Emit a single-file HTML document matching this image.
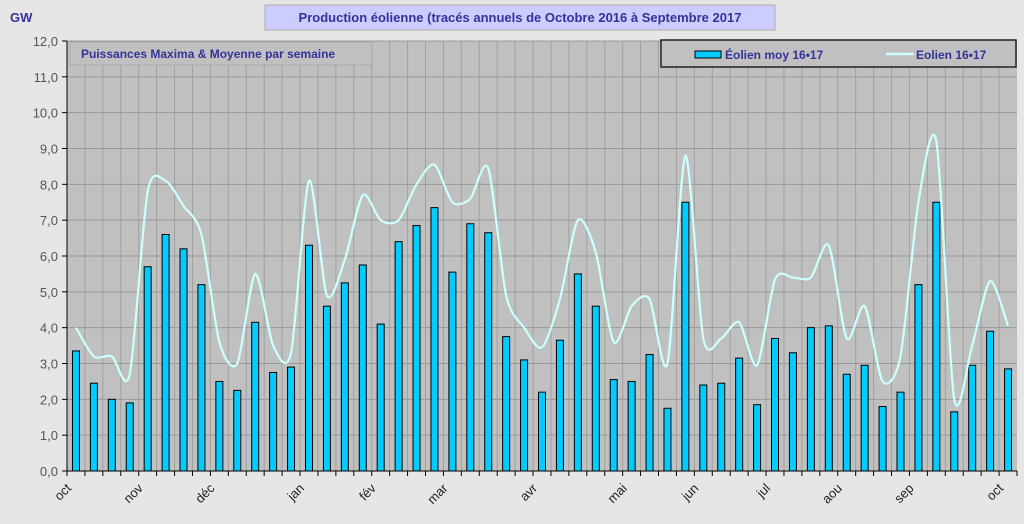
<!DOCTYPE html>
<html><head><meta charset="utf-8"><style>
body{margin:0;background:#e6e6e6;width:1024px;height:519px;overflow:hidden;font-family:"Liberation Sans",sans-serif}
</style></head><body>
<svg id="s" width="1024" height="519" xmlns="http://www.w3.org/2000/svg" font-family="Liberation Sans, sans-serif"></svg>
<script>
const s=document.getElementById('s');
const X0=67,X1=1017,Y0=471,Y1=41,N=53,cw=(X1-X0)/N,u=(Y0-Y1)/12;
let h='';
h+=`<rect x="265" y="5" width="510" height="25" fill="#ccccff" stroke="#aaa"/>`;
h+=`<text x="520" y="22" text-anchor="middle" font-size="13" font-weight="bold" fill="#333399">Production éolienne (tracés annuels de Octobre 2016 à Septembre 2017</text>`;
h+=`<text x="10" y="22" font-size="13" font-weight="bold" fill="#333399">GW</text>`;
h+=`<rect x="${X0}" y="${Y1}" width="${X1-X0}" height="${Y0-Y1}" fill="#c0c0c0"/>`;
for(let i=1;i<N;i++){let x=X0+i*cw;h+=`<line x1="${x}" y1="${Y1}" x2="${x}" y2="${Y0}" stroke="#a0a0a0"/>`;}
for(let k=0;k<=12;k++){let y=Y0-k*u;h+=`<line x1="${X0}" y1="${y}" x2="${X1}" y2="${y}" stroke="#999"/>`;
h+=`<line x1="${X0-5}" y1="${y}" x2="${X0}" y2="${y}" stroke="#000"/>`;
h+=`<text x="${X0-9}" y="${y+5}" text-anchor="end" font-size="13" fill="#555">${k.toFixed(1).replace('.',',')}</text>`;}
h+=`<rect x="70" y="42" width="302" height="23" fill="#c0c0c0" stroke="#aaa"/>`;
h+=`<text x="81" y="58" font-size="12" font-weight="bold" fill="#333399">Puissances Maxima &amp; Moyenne par semaine</text>`;
const b=[3.35,2.45,2.0,1.9,5.7,6.6,6.2,5.2,2.5,2.25,4.15,2.75,2.9,6.3,4.6,5.25,5.75,4.1,6.4,6.85,7.35,5.55,6.9,6.65,3.75,3.1,2.2,3.65,5.5,4.6,2.55,2.5,3.25,1.75,7.5,2.4,2.45,3.15,1.85,3.7,3.3,4.0,4.05,2.7,2.95,1.8,2.2,5.2,7.5,1.65,2.95,3.9,2.85];
b.forEach((v,i)=>{let cx=X0+(i+.5)*cw;h+=`<rect x="${cx-3.5}" y="${Y0-v*u}" width="7" height="${v*u}" fill="#00ccff" stroke="#000" stroke-width="1"/>`;});
const m=[4.0,3.2,3.2,2.7,7.8,8.1,7.4,6.6,3.6,3.0,5.5,3.5,3.3,8.1,4.9,5.9,7.7,7.0,7.0,8.0,8.55,7.5,7.6,8.45,4.9,4.0,3.45,4.8,7.0,6.1,3.6,4.6,4.8,3.0,8.8,3.7,3.7,4.15,2.95,5.35,5.4,5.4,6.3,3.7,4.6,2.5,3.2,7.5,9.2,2.0,3.5,5.3,4.05];
const P=m.map((v,i)=>[X0+(i+.5)*cw,Y0-v*u]);
let d=`M${P[0][0]},${P[0][1]}`;const T=7.5;
for(let i=0;i<P.length-1;i++){let p0=P[Math.max(i-1,0)],p1=P[i],p2=P[i+1],p3=P[Math.min(i+2,P.length-1)];
d+=` C${p1[0]+(p2[0]-p0[0])/T},${p1[1]+(p2[1]-p0[1])/T} ${p2[0]-(p3[0]-p1[0])/T},${p2[1]-(p3[1]-p1[1])/T} ${p2[0]},${p2[1]}`;}
h+=`<path d="${d}" fill="none" stroke="#ccffff" stroke-width="2.2"/>`;
h+=`<line x1="${X0}" y1="${Y1}" x2="${X0}" y2="${Y0}" stroke="#000"/><line x1="${X0}" y1="${Y0}" x2="${X1}" y2="${Y0}" stroke="#000"/>`;
for(let i=0;i<=N;i++){let x=X0+i*cw;h+=`<line x1="${x}" y1="${Y0}" x2="${x}" y2="${Y0+5}" stroke="#000"/>`;}
const L=[["oct",0],["nov",4],["déc",8],["jan",13],["fév",17],["mar",21],["avr",26],["mai",31],["jun",35],["jul",39],["aou",43],["sep",47],["oct",52]];
L.forEach(([t,i])=>{let x=X0+i*cw+5,y=Y0+18;h+=`<text transform="translate(${x},${y}) rotate(-45)" text-anchor="end" font-size="13" fill="#222">${t}</text>`;});
h+=`<rect x="661" y="40" width="355" height="27" fill="#c0c0c0" stroke="#222" stroke-width="1.5"/>`;
h+=`<rect x="695" y="51" width="26" height="7" fill="#00ccff" stroke="#000"/>`;
h+=`<text x="725" y="59" font-size="12" font-weight="bold" fill="#333399">Éolien moy 16•17</text>`;
h+=`<line x1="886" y1="54" x2="914" y2="54" stroke="#ccffff" stroke-width="2.5"/>`;
h+=`<text x="916" y="59" font-size="12" font-weight="bold" fill="#333399">Eolien 16•17</text>`;
s.innerHTML=h;
</script>
</body></html>
